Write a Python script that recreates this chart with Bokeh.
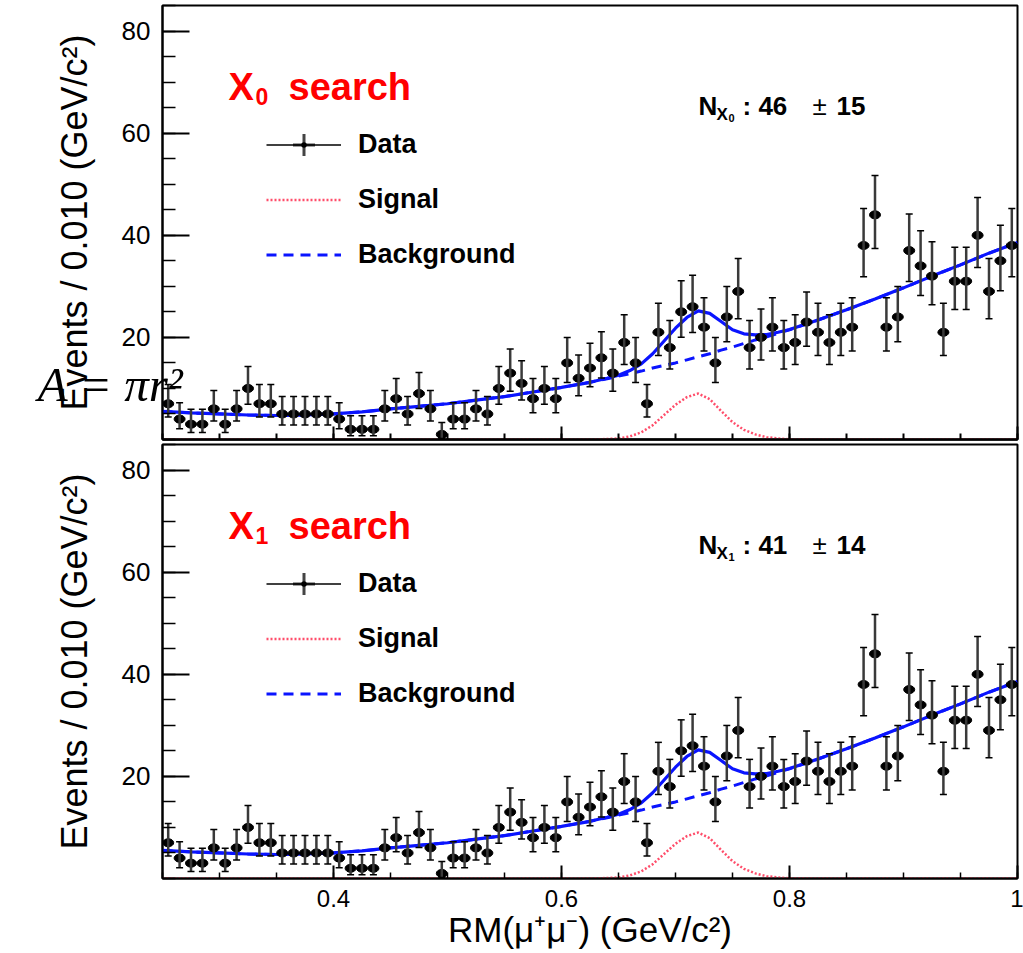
import math
from bokeh.plotting import figure
from bokeh.models import (ColumnDataSource, Range1d, FixedTicker, Whisker, TeeHead,
                          Legend, LegendItem, Label, LinearAxis, AllLabels)
from bokeh.layouts import column
from bokeh.embed import file_html
from bokeh.resources import INLINE

# ---------------- data ----------------
bin_width = 0.01
bin_lo = 0.25
counts = [7, 4, 3, 3, 6, 3, 6, 10, 7, 7,
          5, 5, 5, 5, 5, 4, 2, 2, 2, 6,
          8, 5, 9, 6, 1, 4, 4, 6, 5, 10,
          13, 11, 8, 10, 8, 15, 12, 14, 16, 13,
          19, 15, 7, 21, 18, 25, 26, 22, 15, 24,
          29, 18, 20, 22, 18, 19, 23, 21, 19, 21,
          22, 38, 44, 22, 24, 37, 34, 32, 21, 31,
          31, 40, 29, 35, 38]
bin_centers = [round(bin_lo + bin_width * (i + 0.5), 4) for i in range(len(counts))]

curve_x = [0.250, 0.275, 0.300, 0.325, 0.350, 0.375, 0.400, 0.425, 0.450, 0.475,
           0.500, 0.525, 0.550, 0.575, 0.600, 0.625, 0.640, 0.650, 0.660, 0.670,
           0.680, 0.690, 0.700, 0.710, 0.720, 0.730, 0.740, 0.750, 0.760, 0.770,
           0.780, 0.790, 0.800, 0.825, 0.850, 0.875, 0.900, 0.925, 0.950, 0.975, 1.000]
background = [5.5, 5.2, 5.0, 4.8, 4.7, 4.8, 5.0, 5.4, 6.0, 6.5,
              7.0, 7.7, 8.4, 9.3, 10.2, 11.2, 11.9, 12.4, 12.9, 13.4,
              14.0, 14.5, 15.0, 15.6, 16.2, 16.8, 17.5, 18.1, 18.8, 19.5,
              20.1, 20.8, 21.5, 23.4, 25.4, 27.5, 29.7, 32.0, 34.2, 36.5, 38.6]
signal = [0.0, 0.0, 0.0, 0.0, 0.0, 0.0, 0.0, 0.0, 0.0, 0.0,
          0.0, 0.0, 0.0, 0.0, 0.0, 0.0, 0.1, 0.2, 0.6, 1.4,
          2.8, 4.8, 6.8, 8.3, 9.0, 7.9, 5.6, 3.4, 1.9, 1.0,
          0.45, 0.2, 0.05, 0.0, 0.0, 0.0, 0.0, 0.0, 0.0, 0.0, 0.0]

x_ticks = [0.4, 0.6, 0.8, 1.0]
x_minor = [0.25, 0.30, 0.35, 0.40, 0.45, 0.50, 0.55, 0.60, 0.65, 0.70, 0.75, 0.80, 0.85, 0.90, 0.95, 1.0]
y_ticks = [20, 40, 60, 80]
y_minor = [0, 5, 10, 15, 20, 25, 30, 35, 40, 45, 50, 55, 60, 65, 70, 75, 80, 85]

x_title = "RM(μ⁺μ⁻) (GeV/c²)"
y_title = "Events / 0.010 (GeV/c²)"
panel_titles = ["0", "1"]
yields = [("46", "15"), ("41", "14")]
overlay_text = "A = πr²"

# Poisson (Gehrels) error bars derived from the counts
err_hi = [n + math.sqrt(n + 0.75) + 1.0 for n in counts]
err_lo = [n * (1 - 1.0 / (9 * n) - 1.0 / (3 * math.sqrt(n))) ** 3 if n > 0 else 0 for n in counts]
total = [b + s for b, s in zip(background, signal)]

FONT = "Liberation Sans"
BLUE = "#0a14ff"
PINK = "#ff4d6a"


def px2x(px):
    return 0.25 + (px - 162) / 1140.0


def py2y(py):
    return (439 - py) / 5.1


OVERLAY_POS = py2y(384)


def lab(p, px, py, text, size, style="bold", color="black", font=FONT):
    p.add_layout(Label(x=px2x(px), y=py2y(py), text=text, text_font=font,
                       text_font_size=size, text_font_style=style, text_color=color,
                       text_baseline="alphabetic", text_align="left"))


def style_xaxis(ax, tick_in, minor_in):
    ax.major_tick_in = tick_in
    ax.major_tick_out = 0
    ax.minor_tick_in = minor_in
    ax.minor_tick_out = 0
    ax.major_tick_line_width = 2
    ax.minor_tick_line_width = 2
    ax.axis_line_width = 2


def make_panel(idx):
    top = idx == 0
    p = figure(frame_width=855, frame_height=434,
               x_range=Range1d(0.25, 1.0), y_range=Range1d(0, 85),
               output_backend="svg", toolbar_location=None,
               min_border_left=162, min_border_right=6,
               min_border_top=5 if top else 3,
               min_border_bottom=2 if top else 75,
               background_fill_color="white", border_fill_color="white")
    p.xgrid.visible = False
    p.ygrid.visible = False
    p.outline_line_color = "black"
    p.outline_line_width = 2
    p.outline_line_alpha = 1.0

    xa = p.xaxis[0]
    if top:
        # short ticks on the main axis, long ticks on a second (label-free) axis
        xa.ticker = FixedTicker(ticks=[], minor_ticks=x_minor)
        style_xaxis(xa, 0, 6)
        xa.major_label_standoff = 0
        xlong = LinearAxis(ticker=FixedTicker(ticks=[], minor_ticks=x_ticks),
                           major_label_standoff=0)
        style_xaxis(xlong, 0, 13)
        p.add_layout(xlong, "below")
    else:
        xa.ticker = FixedTicker(ticks=x_ticks, minor_ticks=x_minor)
        xa.major_label_overrides = {1: "1"}
        xa.major_label_policy = AllLabels()
        style_xaxis(xa, 13, 6)
        xa.minor_tick_line_width = 1.5
        xa.major_label_text_font = FONT
        xa.major_label_text_color = "black"
        xa.major_label_text_font_size = "24px"
        xa.major_label_standoff = 11
        xa.axis_label = x_title
        xa.axis_label_text_font = FONT
        xa.axis_label_text_font_size = "35px"
        xa.axis_label_text_font_style = "normal"
        xa.axis_label_text_color = "black"
        xa.axis_label_standoff = 0

    ya = p.yaxis[0]
    ya.ticker = FixedTicker(ticks=y_ticks, minor_ticks=y_minor)
    ya.major_tick_in = 27
    ya.major_tick_out = 0
    ya.minor_tick_in = 13
    ya.minor_tick_out = 0
    ya.major_tick_line_width = 2
    ya.minor_tick_line_width = 1.5
    ya.axis_line_width = 2
    ya.major_label_text_font = FONT
    ya.major_label_text_font_size = "26px"
    ya.major_label_text_color = "black"
    ya.major_label_standoff = 12
    ya.axis_label = y_title
    ya.axis_label_text_font = FONT
    ya.axis_label_text_font_size = "36px"
    ya.axis_label_text_font_style = "normal"
    ya.axis_label_text_color = "black"
    ya.axis_label_standoff = 24

    if top:
        # stray formula pasted over the y title in the reference
        extra = LinearAxis(ticker=FixedTicker(ticks=[OVERLAY_POS], minor_ticks=[]),
                           major_label_overrides={OVERLAY_POS: overlay_text},
                           major_tick_in=0, major_tick_out=0, axis_line_alpha=0,
                           major_label_standoff=-133,
                           major_label_text_font="Liberation Serif",
                           major_label_text_font_style="italic",
                           major_label_text_font_size="49px",
                           major_label_text_color="black")
        p.add_layout(extra, "left")

    csrc = ColumnDataSource(dict(x=curve_x, bg=background, sig=signal, tot=total))
    r_bg = p.line("x", "bg", source=csrc, line_color=BLUE, line_width=3, line_dash="10 7")
    p.line("x", "tot", source=csrc, line_color=BLUE, line_width=3.2)
    r_sig = p.line("x", "sig", source=csrc, line_color=PINK, line_width=2.5, line_dash="2 2")

    dsrc = ColumnDataSource(dict(x=bin_centers, y=counts, hi=err_hi, lo=err_lo))
    wh = Whisker(base="x", upper="hi", lower="lo", source=dsrc, dimension="height",
                 line_color="#3a3a3a", line_width=2.5, level="glyph",
                 upper_head=TeeHead(size=7, line_color="black", line_width=1.5),
                 lower_head=TeeHead(size=7, line_color="black", line_width=1.5))
    p.add_layout(wh)
    p.ellipse("x", "y", source=dsrc, width=11, height=8, width_units="screen",
              height_units="screen", fill_color="black", line_color="black")

    dummy = ColumnDataSource(dict(x=[float("nan")], y=[float("nan")]))
    r_bar = p.scatter("x", "y", source=dummy, marker="cross", size=10,
                      line_color="#444444", line_width=3)
    r_hl = p.line("x", "y", source=dummy, line_color="black", line_width=1.5)
    r_dot = p.scatter("x", "y", source=dummy, marker="dot", size=10,
                      line_color="black", fill_color="black", line_width=2)

    legend = Legend(items=[LegendItem(label="Data", renderers=[r_bar, r_hl, r_dot]),
                           LegendItem(label="Signal", renderers=[r_sig]),
                           LegendItem(label="Background", renderers=[r_bg])],
                    location=(104, 157), glyph_width=75, glyph_height=55,
                    label_height=55, spacing=0, padding=0, margin=0,
                    label_standoff=17, border_line_alpha=0, background_fill_alpha=0,
                    label_text_font=FONT, label_text_font_style="bold",
                    label_text_font_size="27px", label_text_color="black")
    p.add_layout(legend)

    # panel title "X_n search"
    lab(p, 228, 87, "X", "38px", color="#ff0000")
    lab(p, 255, 96, panel_titles[idx], "23px", color="#ff0000")
    lab(p, 288, 87, "search", "38px", color="#ff0000")

    # fitted yield
    n, e = yields[idx]
    lab(p, 698, 106, "N", "26px")
    lab(p, 716, 114, "X", "17px")
    lab(p, 728, 118, panel_titles[idx], "11px")
    lab(p, 742, 106, ": " + n, "26px")
    lab(p, 812, 106, "±", "26px", style="normal")
    lab(p, 836, 106, e, "26px")
    return p


p1 = make_panel(0)
p2 = make_panel(1)
layout = column(p1, p2, spacing=0)
open("out.html", "w").write(file_html(layout, INLINE))
